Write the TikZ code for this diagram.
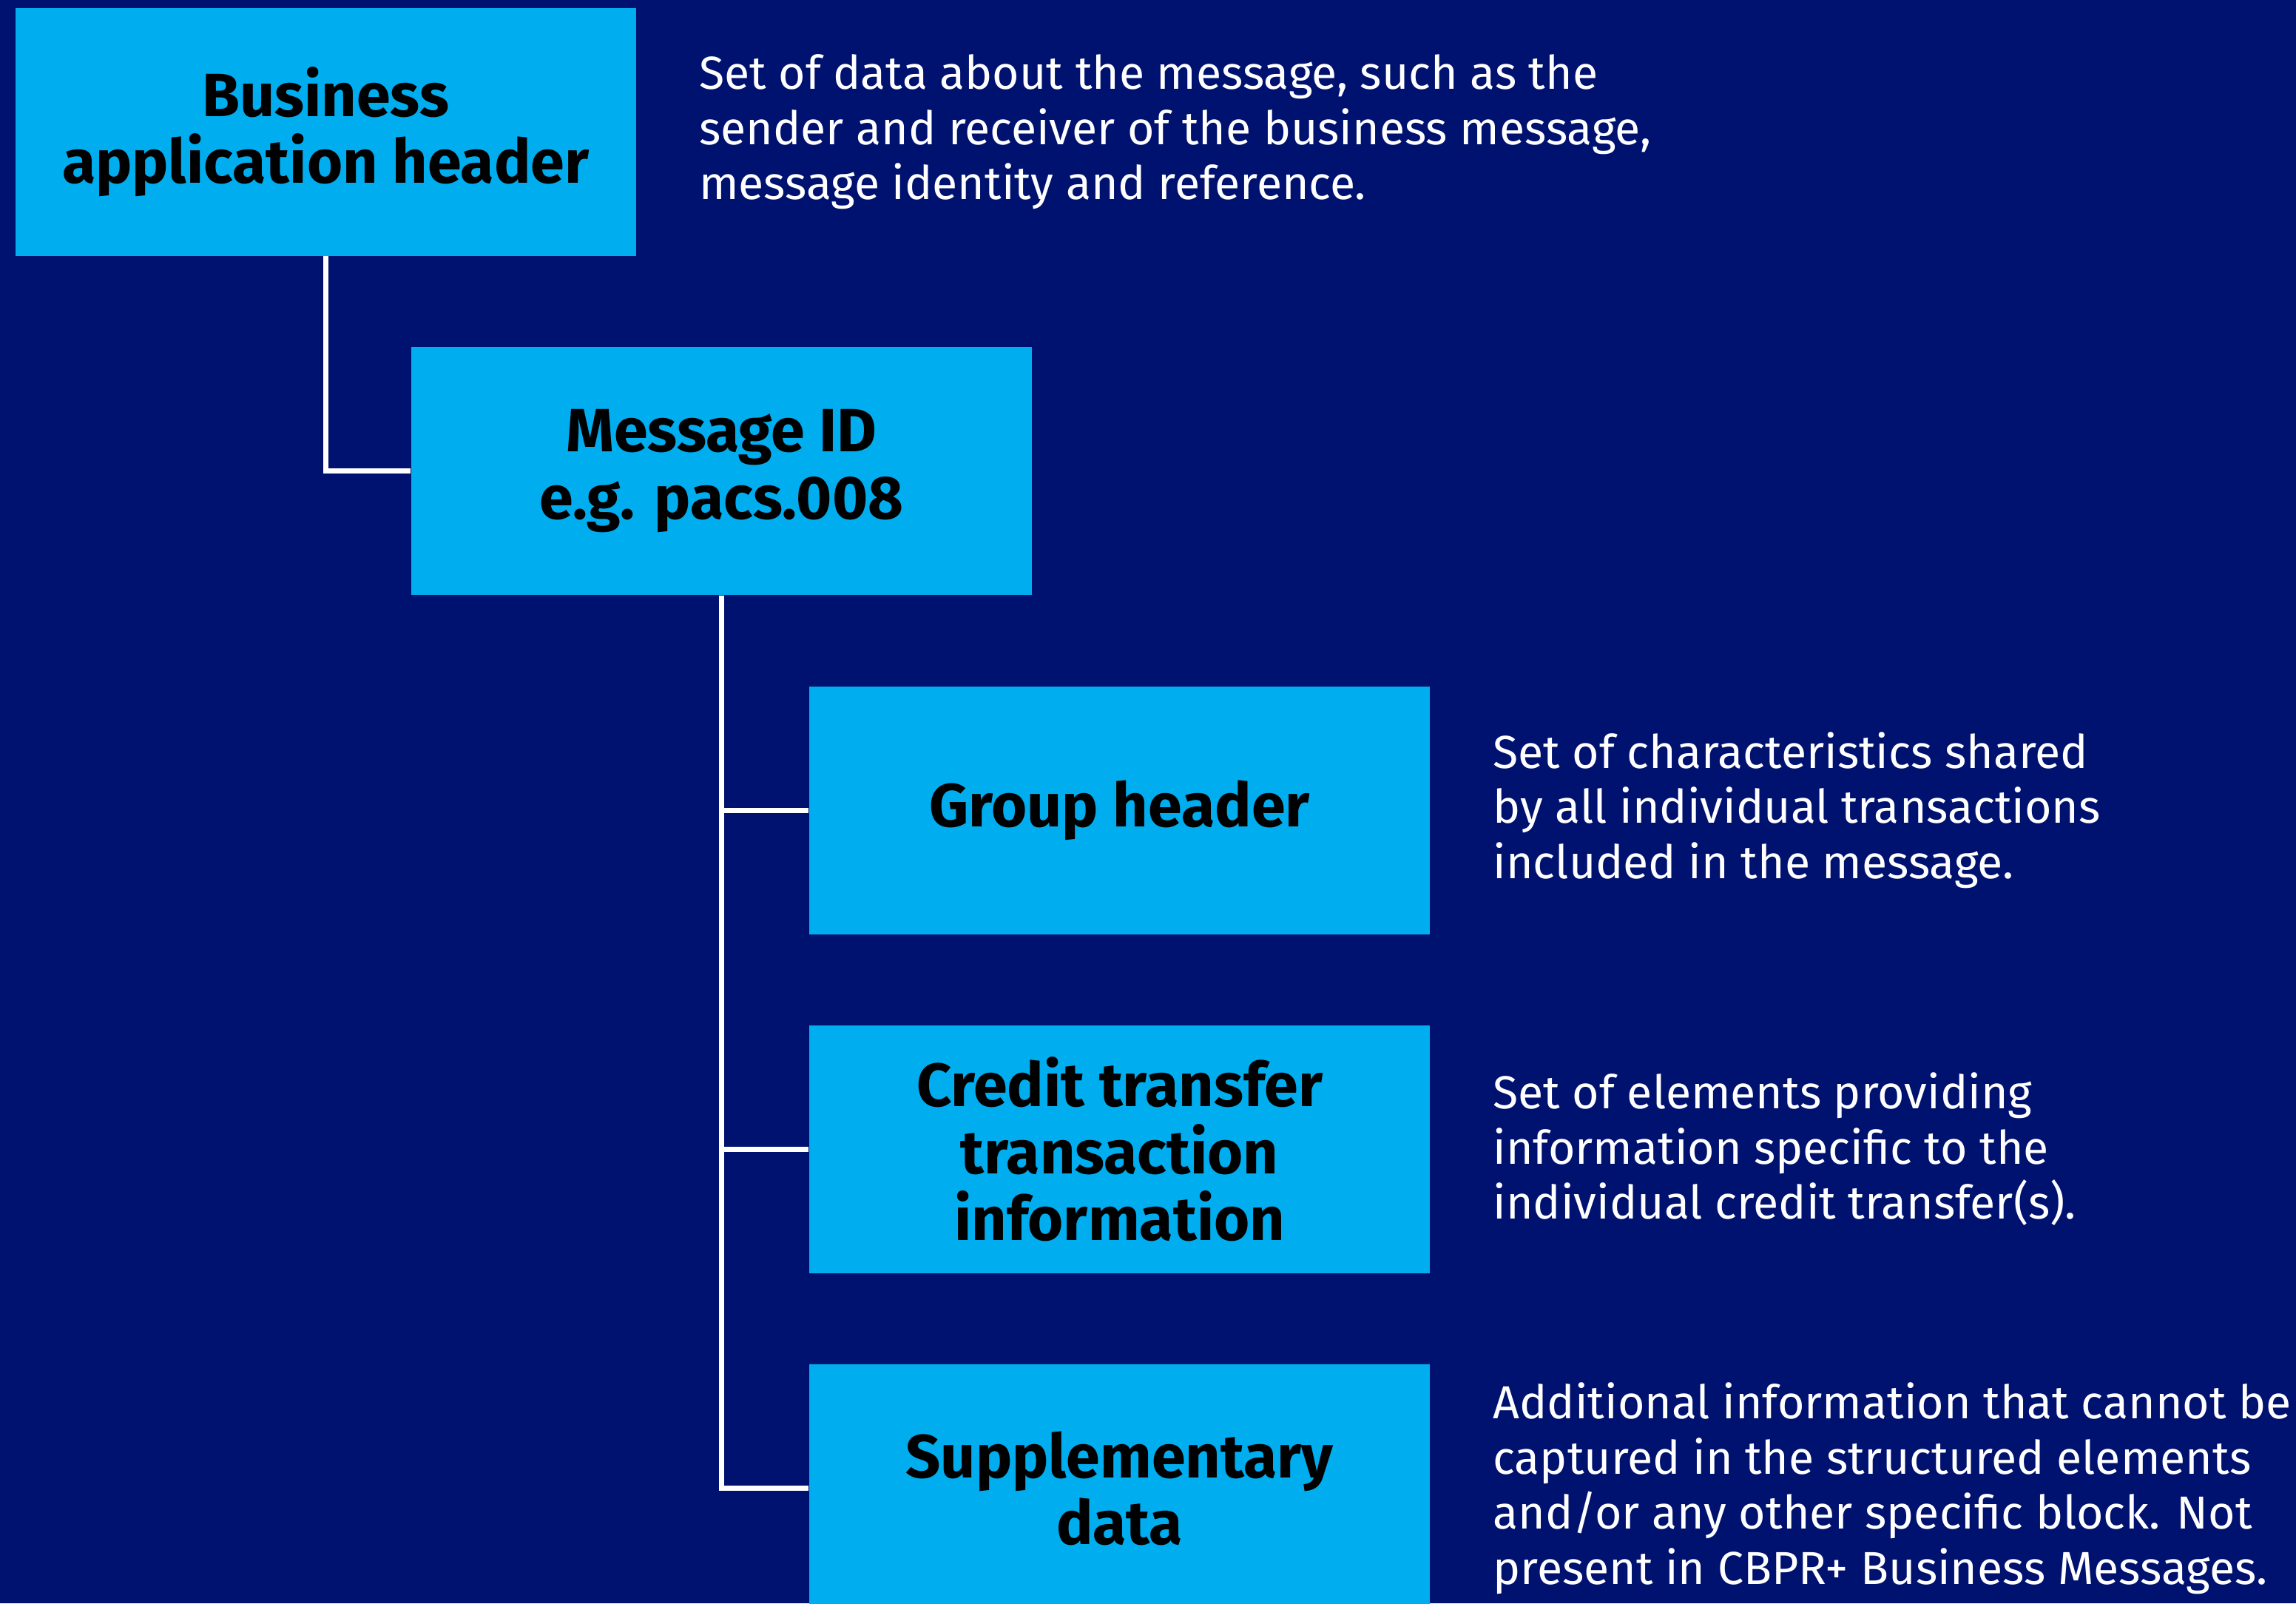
\documentclass[tikz,border=0pt]{standalone}
\usepackage{fontspec}
\setmainfont{Fira Sans}
\usetikzlibrary{positioning}

\definecolor{msgnavy}{HTML}{001270}
\definecolor{msgcyan}{HTML}{00ADEF}

\begin{document}
\begin{tikzpicture}
      [block/.style={
          rectangle,
          fill=msgcyan,
          text=black,
          minimum width=8.39cm,
          minimum height=3.35cm,
          inner sep=0pt,
          align=center,
          font=\fontsize{23.5}{25.8}\selectfont\bfseries},
        note/.style={
          text=white,
          align=left,
          inner sep=0pt,
          font=\fontsize{17.8}{21.2}\selectfont},
        link/.style={draw=white, line width=2pt},
        node distance=1.22cm]
      % background and page size
      \fill[msgnavy] (0,0) rectangle (31.04,-21.67);
      \useasboundingbox (0,0) rectangle (31.04,-21.67);
      % message blocks
      \node[block, anchor=north west] (bah) at (0.2,-0.1) {Business\\application header};
      \node[block, below=of bah.south, anchor=north west, xshift=1.15cm] (msgid) {Message ID\\e.g. pacs.008};
      \node[block, below=of msgid.south, anchor=north west, xshift=1.18cm] (grphdr) {Group header};
      \node[block, below=of grphdr] (cdttrf) {Credit transfer\\transaction\\information};
      \node[block, below=of cdttrf] (splmtry) {Supplementary\\data};
      % descriptions
      \node[note, right=0.84cm of bah] (bahnote) {Set of data about the message, such as the\\sender and receiver of the business message,\\message identity and reference.};
      \node[note, right=0.84cm of grphdr] (grphdrnote) {Set of characteristics shared\\by all individual transactions\\included in the message.};
      \node[note, right=0.84cm of cdttrf] (cdttrfnote) {Set of elements providing\\information specific to the\\individual credit transfer(s).};
      \node[note, right=0.84cm of splmtry] (splmtrynote) {Additional information that cannot be\\captured in the structured elements\\and/or any other specific block. Not\\present in CBPR+ Business Messages.};
      % tree lines
      \draw[link] (bah.south) |- (msgid.west);
      \foreach \n in {grphdr, cdttrf, splmtry}
        \draw[link] (msgid.south) |- (\n.west);
    \end{tikzpicture}
\end{document}
